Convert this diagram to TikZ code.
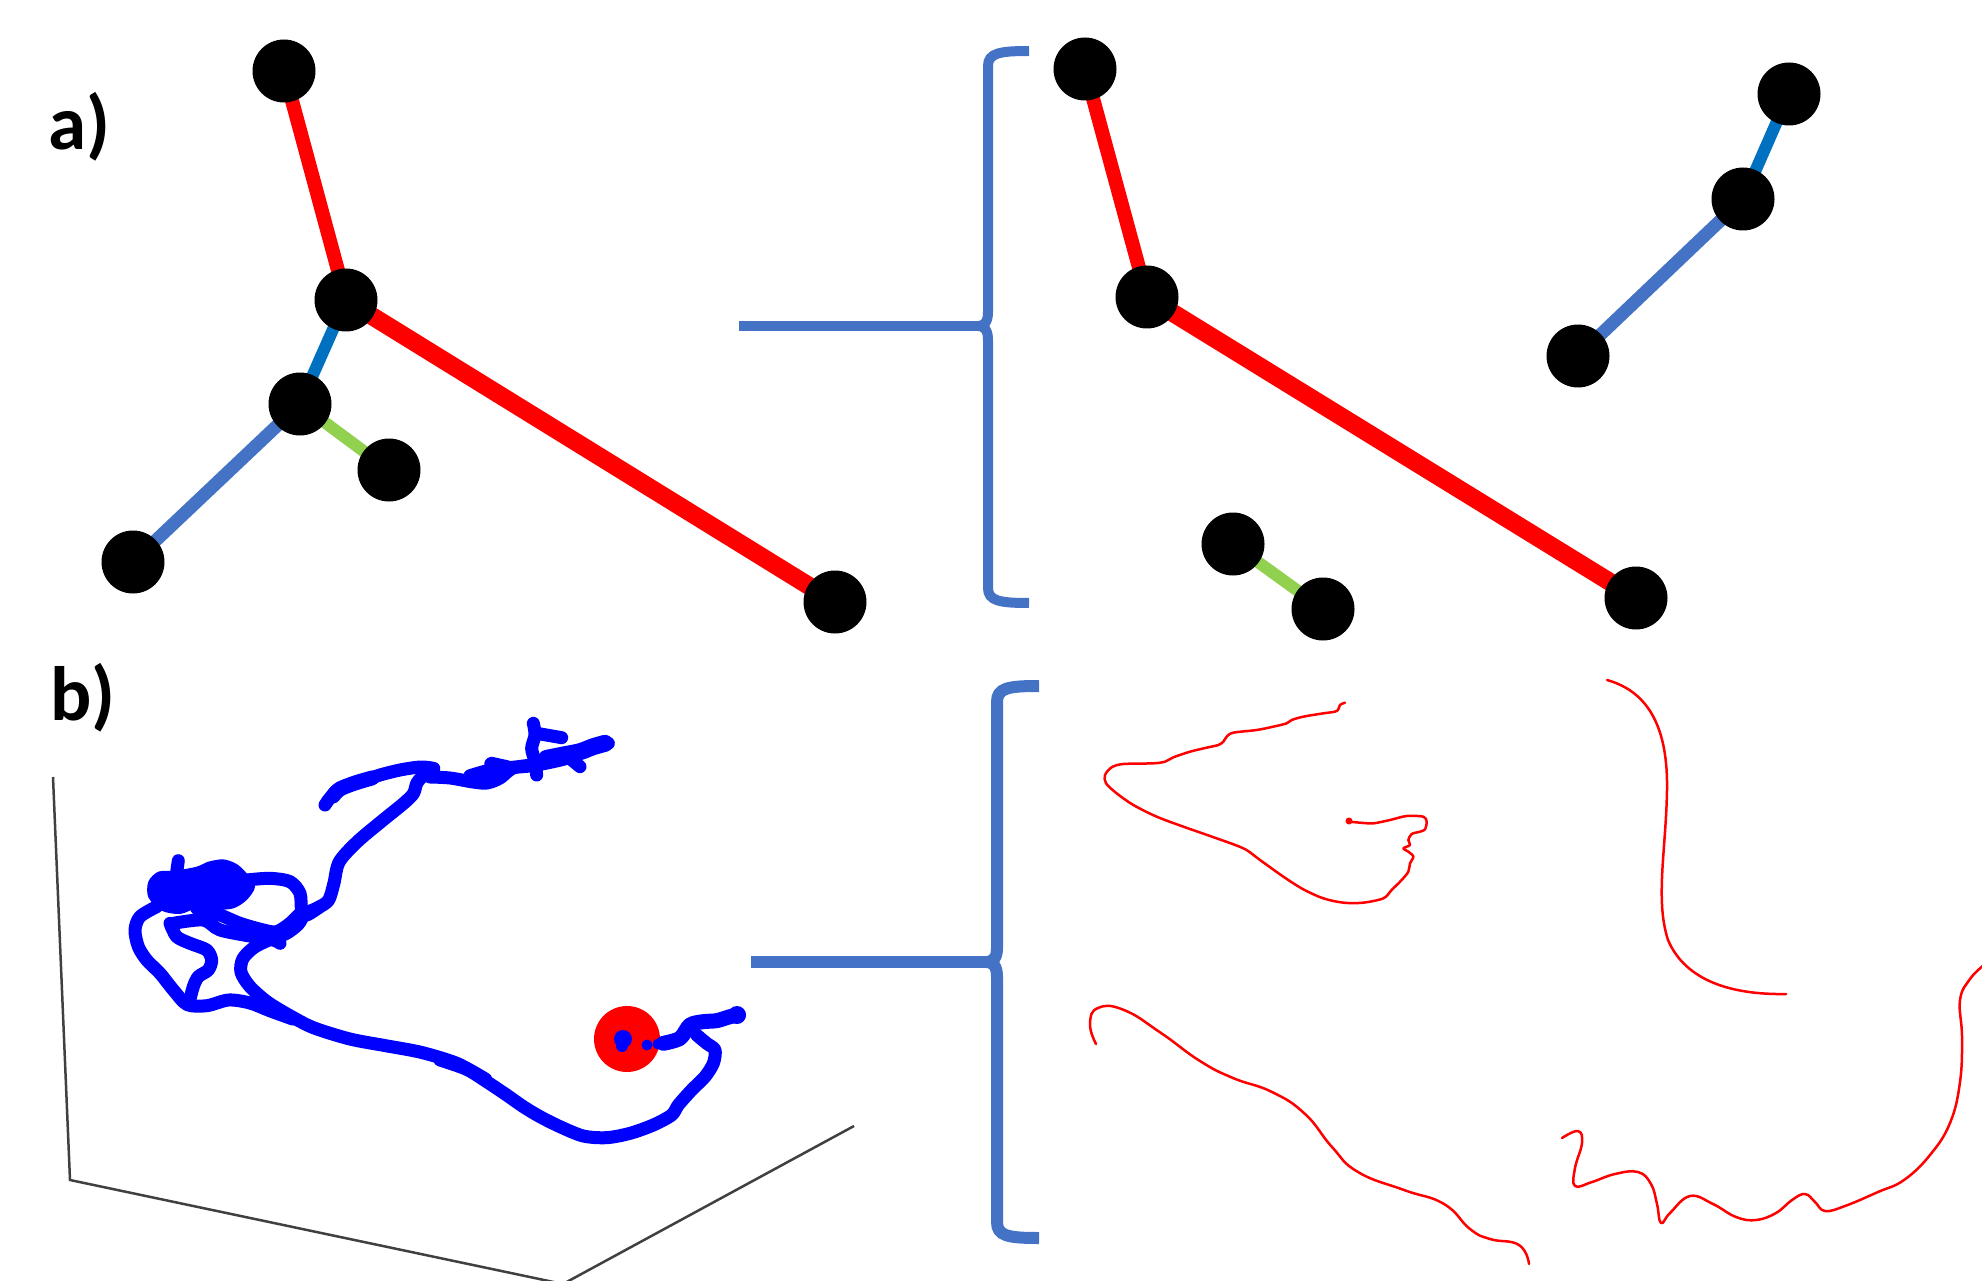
\documentclass[tikz,border=0pt]{standalone}
\usepackage{fontspec}
\newfontfamily\lblfont{Carlito}
\usetikzlibrary{backgrounds}
\definecolor{edred}{HTML}{FF0000}
\definecolor{edblue}{HTML}{4472C4}
\definecolor{eddblue}{HTML}{0070C0}
\definecolor{edgreen}{HTML}{92D050}
\definecolor{trblue}{HTML}{0000FF}
\definecolor{axgray}{HTML}{404040}
\begin{document}
\begin{tikzpicture}[x=1pt,y=-1pt,
  dot/.style={circle,fill=black,minimum size=63pt,inner sep=0pt},
  redthin/.style={draw=edred,line width=14pt},
  redthick/.style={draw=edred,line width=18pt},
  bluelink/.style={draw=edblue,line width=13pt},
  dbluelink/.style={draw=eddblue,line width=12pt},
  greenlink/.style={draw=edgreen,line width=12pt},
  bracea/.style={draw=edblue,line width=10pt},
  braceb/.style={draw=edblue,line width=12pt},
  traj/.style={draw=trblue,line width=13pt,line cap=round,line join=round},
  redcurve/.style={draw=edred,line width=2.5pt,line cap=round,line join=round},
  axisline/.style={draw=axgray,line width=2.5pt},
  lbl/.style={font=\lblfont\bfseries\fontsize{77}{77}\selectfont,anchor=base west,inner sep=0pt}]
\useasboundingbox (0,0) rectangle (1982,1281);

% labels
\node[lbl] (la) at (48,150) {a)};
\node[lbl] (lb) at (50,720) {b)};

% ---------- panel a, left tree ----------
\node[dot] (n1) at (284,71) {};
\node[dot] (n2) at (346,300) {};
\node[dot] (n3) at (300,404) {};
\node[dot] (n4) at (389,470) {};
\node[dot] (n5) at (133,562) {};
\node[dot] (n6) at (835,602) {};
% ---------- panel a, right pieces ----------
\node[dot] (r1) at (1085,69) {};
\node[dot] (r2) at (1147,297) {};
\node[dot] (r3) at (1636,598) {};
\node[dot] (r4) at (1789,94) {};
\node[dot] (r5) at (1743,199) {};
\node[dot] (r6) at (1578,356) {};
\node[dot] (r7) at (1233,544) {};
\node[dot] (r8) at (1323,609) {};
\begin{scope}[on background layer]
\draw[redthin] (n1.center) -- (n2.center);
\draw[redthick] (n2.center) -- (n6.center);
\draw[dbluelink] (n2.center) -- (n3.center);
\draw[greenlink] (n3.center) -- (n4.center);
\draw[bluelink] (n3.center) -- (n5.center);
\draw[redthin] (r1.center) -- (r2.center);
\draw[redthick] (r2.center) -- (r3.center);
\draw[dbluelink] (r4.center) -- (r5.center);
\draw[bluelink] (r5.center) -- (r6.center);
\draw[greenlink] (r7.center) -- (r8.center);
\end{scope}

% brace a
\coordinate (ha) at (739,326);
\coordinate (bca) at (978,326);
\draw[bracea] (ha) -- (bca);
\draw[bracea] (1029,51) .. controls (1000,51) and (988,53) .. (988,66) -- (988,312)
  .. controls (988,321) and (985,326) .. (bca) .. controls (985,326) and (988,331) .. (988,340)
  -- (988,588) .. controls (988,601) and (1000,603) .. (1029,603);

% brace b
\coordinate (hb) at (751,962);
\coordinate (bcb) at (986,962);
\draw[braceb] (hb) -- (bcb);
\draw[braceb] (1039,686) .. controls (1008,686) and (997,688) .. (997,702) -- (997,948)
  .. controls (997,957) and (994,962) .. (bcb) .. controls (994,962) and (997,967) .. (997,977)
  -- (997,1222) .. controls (997,1236) and (1008,1238) .. (1039,1238);

% ---------- panel b, axes ----------
\coordinate (ax0) at (53,777);
\coordinate (ax1) at (70,1180);
\coordinate (ax2) at (563,1284);
\coordinate (ax3) at (854,1126);
\draw[axisline,line join=miter] (ax0) -- (ax1) -- (ax2) -- (ax3);

% red target
\fill[edred] (627,1039) circle[radius=33pt];

% ---------- trajectory ----------
% end near the target
\begin{scope}[shift={(450,950)},scale=1/3]
\draw[traj,line width=15pt] plot[smooth] coordinates {(640,280) (690,265) (720,225) (760,215) (800,212) (840,200) (865,195)};
\draw[traj] plot[smooth] coordinates {(740,255) (770,280) (795,300) (790,340) (765,380) (725,420) (685,465) (665,495) (610,525) (540,550) (470,563) (400,558) (330,530) (270,500) (220,470) (170,435) (110,395) (50,358) (-30,330)};
\end{scope}
\fill[trblue] (737,1015) circle[radius=9pt];
\fill[trblue] (623,1039) circle[radius=9pt];
\fill[trblue] (622,1046) circle[radius=6pt];
\fill[trblue] (647,1045) circle[radius=5.5pt];
\fill[trblue] (658,1044) circle[radius=5.5pt];

% long middle stretch
\begin{scope}[shift={(100,700)},xscale=0.357,yscale=0.334]
\draw[traj] plot[smooth] coordinates {(1080,1135) (1000,1088) (900,1055) (800,1035) (700,1015) (600,982) (540,950) (470,905) (420,858) (395,815) (400,775) (430,742) (470,720) (520,700) (555,672) (575,640) (610,622) (640,600) (655,550) (670,485) (720,425) (790,362) (850,310) (878,280) (888,248) (910,222) (935,205)};
\end{scope}

% upper branches
\draw[traj] plot[smooth] coordinates {(432,768) (420,767) (400,770) (380,775) (360,782) (340,788) (330,798) (325,805)};
\draw[traj,line width=15pt] plot[smooth] coordinates {(372,778) (355,783) (340,789) (333,796)};
\draw[traj] plot[smooth] coordinates {(430,777) (450,778) (473,782) (487,783) (500,778) (513,768) (533,765)};
\begin{scope}[shift={(470,705)},scale=1/3]
\draw[traj] plot[smooth] coordinates {(0,212) (60,195) (110,188) (160,185) (200,180) (250,170) (290,160) (340,140) (390,120) (415,115)};
\draw[traj,line width=17pt] plot[smooth] coordinates {(230,160) (280,150) (330,140) (370,125) (405,115)};
\draw[traj,line width=15pt] (65,178) -- (110,188);
\draw[traj] plot[smooth] coordinates {(190,55) (195,90) (185,130) (195,170) (200,210)};
\draw[traj] (200,85) -- (275,98);
\draw[traj] (300,160) -- (330,185);
\end{scope}

% tangled cluster on the left
\begin{scope}[shift={(120,840)},scale=1/3]
\fill[trblue] plot[smooth cycle] coordinates {(85,125) (115,95) (165,92) (230,80) (265,65) (310,58) (350,72) (380,100) (405,140) (380,180) (340,205) (280,210) (230,205) (180,222) (125,212) (85,172)};
\draw[traj] (175,62) -- (168,110);
\draw[traj] plot[smooth] coordinates {(110,200) (60,230) (45,270) (55,320) (80,360) (120,400) (160,450) (202,494) (261,497) (326,480) (390,489) (449,512) (518,537)};
\draw[traj] plot[smooth] coordinates {(150,250) (170,290) (210,310) (260,330) (275,360) (265,390) (235,410) (220,440) (207,490)};
\draw[traj] plot[smooth] coordinates {(230,205) (300,225) (360,250) (430,270) (470,275) (510,250) (545,215)};
\draw[traj] plot[smooth] coordinates {(160,250) (250,240) (300,270) (400,290) (460,300) (480,310)};
\draw[traj] plot[smooth] coordinates {(380,120) (450,115) (510,125) (540,160) (545,210) (560,225) (600,200)};
\end{scope}

% ---------- panel b, right curves ----------
\begin{scope}[shift={(1070,680)},scale=1/3]
\draw[redcurve] plot[smooth,tension=0.5] coordinates {(825,68) (810,75) (805,88) (795,95) (760,100) (700,110) (665,120) (650,130) (610,140) (560,150) (490,158) (470,170) (460,185) (445,195) (410,203) (360,215) (310,232) (285,245) (250,250) (160,252) (125,262) (105,285) (108,310) (140,340) (190,375) (260,410) (340,440) (420,468) (520,505) (570,540) (640,590) (700,628) (760,655) (820,668) (880,668) (940,655) (965,630) (995,600) (1015,575) (1020,550) (1030,530) (1015,515) (1000,505) (1020,495) (1015,480) (1025,462) (1050,455) (1065,448) (1070,425) (1060,410) (1010,408) (960,420) (910,430) (870,428) (838,425)};
\end{scope}
\fill[edred] (1349,821) circle[radius=3.5pt];
\draw[redcurve] (1607,680) .. controls (1650,692) and (1668,730) .. (1667,790)
  .. controls (1666,850) and (1655,900) .. (1668,940)
  .. controls (1685,980) and (1730,995) .. (1786,994);
\draw[redcurve] plot[smooth,tension=0.8] coordinates {(1096,1044) (1090,1024) (1098,1008) (1124,1010) (1161,1033) (1200,1061) (1233,1078) (1272,1092) (1305,1114) (1332,1147) (1358,1172) (1404,1190) (1444,1204) (1470,1229) (1490,1239) (1519,1245) (1529,1264)};
\draw[redcurve] plot[smooth,tension=0.7] coordinates {(1562,1138) (1578,1131) (1582,1143) (1575,1168) (1575,1186) (1592,1182) (1615,1174) (1638,1172) (1651,1184) (1657,1204) (1661,1223) (1670,1213) (1690,1196) (1713,1204) (1736,1217) (1756,1220) (1776,1213) (1792,1200) (1805,1194) (1815,1202) (1825,1211) (1845,1206) (1878,1192) (1904,1180) (1930,1155) (1950,1123) (1960,1082) (1962,1037) (1960,1000) (1970,979) (1984,965)};
\end{tikzpicture}
\end{document}
